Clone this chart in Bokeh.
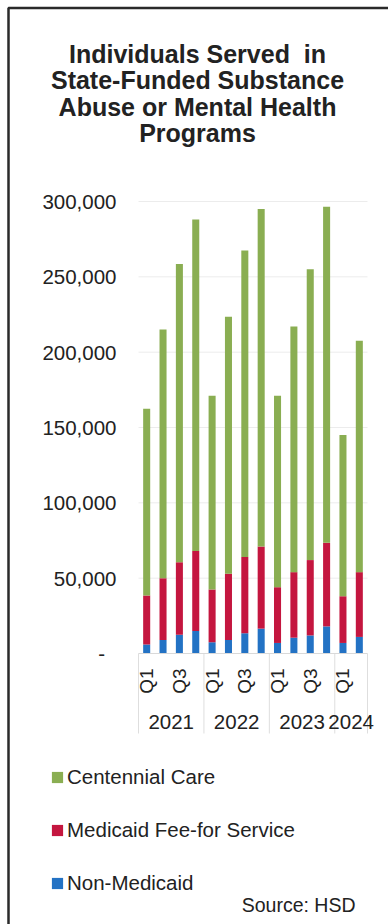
from math import pi

from bokeh.plotting import figure
from bokeh.models import (ColumnDataSource, FixedTicker, NumeralTickFormatter, LinearAxis,
                          Label, Legend, LegendItem, Range1d)
from bokeh.embed import file_html
from bokeh.resources import INLINE

# Quarterly counts of individuals served, by funding source
years = ["2021"] * 4 + ["2022"] * 4 + ["2023"] * 4 + ["2024"] * 2
quarters = ["Q1", "Q2", "Q3", "Q4"] * 3 + ["Q1", "Q2"]
non_medicaid = [6000, 9000, 12500, 15000, 7500, 9000, 13500, 16500, 7000, 10500, 12000, 18000, 7000, 11000]
fee_for_service = [32500, 41000, 48000, 53000, 35000, 44000, 50500, 54500, 37000, 43500, 50000, 55500, 31000, 43000]
centennial_care = [124000, 165000, 198000, 220000, 128500, 170500, 203500, 224000, 127000, 163000, 193000, 223000, 107000, 153500]

series_names = ["Non-Medicaid", "Medicaid Fee-for Service", "Centennial Care"]
title_lines = ["Individuals Served\u00a0 in", "State-Funded Substance", "Abuse or Mental Health", "Programs"]
y_ticks = [0, 50000, 100000, 150000, 200000, 250000, 300000]
source_note = "Source: HSD"

GREEN = "#8aae52"
RED = "#c4163f"
BLUE = "#2372c4"
INK = "#222222"
FONT = "Liberation Sans"

# page geometry (pixels); the plotting area spans the whole page and the
# bar region is placed inside it
W, H = 388, 924
LEFT, BAR_W = 138, 229          # left edge and width of the bar region
TOP, BAR_H = 201, 452           # top edge and height of the bar region
BOTTOM = TOP + BAR_H
N = len(quarters)
Y_MAX = y_ticks[-1]
STEP = BAR_W / N


def xd(px):
    """Horizontal page pixel -> x data value."""
    return (px - LEFT) / STEP - 0.5


def yd(py):
    """Vertical page pixel -> y data value."""
    return (BOTTOM - py) * Y_MAX / BAR_H


src = ColumnDataSource(dict(
    x=list(range(N)),
    non_medicaid=non_medicaid,
    ffs=fee_for_service,
    centennial=centennial_care,
))

p = figure(width=W, height=H, output_backend="svg", toolbar_location=None,
           x_range=Range1d(xd(0), xd(W)), y_range=Range1d(yd(H), yd(0)),
           x_axis_type=None, y_axis_type=None,
           min_border_left=0, min_border_right=0, min_border_top=0, min_border_bottom=0)
p.outline_line_color = None
p.background_fill_color = "white"
p.border_fill_color = "white"

x_lo, x_hi = -0.5, N - 0.5

# horizontal grid lines at the value ticks
grid_y = y_ticks[1:]
p.segment(x0=[x_lo] * len(grid_y), x1=[x_hi] * len(grid_y), y0=grid_y, y1=grid_y,
          line_color="#ececec", line_width=1)

# year boundaries running down through the category labels
bounds = [x_lo] + [i - 0.5 for i in range(1, N) if years[i] != years[i - 1]] + [x_hi]
p.segment(x0=bounds, x1=bounds, y0=[0] * len(bounds), y1=[yd(733)] * len(bounds),
          line_color="#dedede", line_width=1)

# y axis with thousands separators and a dash for zero
yaxis = LinearAxis(fixed_location=x_lo, bounds=(0, Y_MAX),
                   ticker=FixedTicker(ticks=y_ticks),
                   formatter=NumeralTickFormatter(format="0,0"),
                   major_label_overrides={0: "-\u00a0\u00a0"},
                   major_label_standoff=16,
                   major_tick_line_color=None, minor_tick_line_color=None,
                   axis_line_color=None,
                   major_label_text_font=FONT, major_label_text_font_size="20.5px",
                   major_label_text_color=INK)
p.add_layout(yaxis, "left")

# x axis: every other quarter labelled
q_ticks = [i for i, q in enumerate(quarters) if q in ("Q1", "Q3")]
xaxis = LinearAxis(fixed_location=0, bounds=(x_lo, x_hi),
                   ticker=FixedTicker(ticks=q_ticks),
                   major_label_overrides={i: quarters[i] for i in q_ticks},
                   major_label_orientation=pi / 2,
                   major_label_standoff=15,
                   major_tick_in=0, major_tick_out=0, major_tick_line_color=None,
                   minor_tick_line_color=None,
                   axis_line_color="#d9d9d9",
                   major_label_text_font=FONT, major_label_text_font_size="19px",
                   major_label_text_color=INK)
p.add_layout(xaxis, "below")

renderers = p.vbar_stack(["non_medicaid", "ffs", "centennial"], x="x", width=0.43,
                         color=[BLUE, RED, GREEN], line_width=0, source=src)

# year group labels
for yr in dict.fromkeys(years):
    idx = [i for i, y in enumerate(years) if y == yr]
    p.add_layout(Label(x=sum(idx) / len(idx), y=yd(721.5), text=yr,
                       text_align="center", text_baseline="middle",
                       text_font=FONT, text_font_size="20.5px", text_color=INK))

# title lines
for line, base in zip(title_lines, [53, 79.5, 106, 132.5]):
    p.add_layout(Label(x=xd(197), y=yd(base), text=line,
                       text_align="center", text_baseline="alphabetic",
                       text_font=FONT, text_font_style="bold", text_font_size="25px",
                       text_color=INK))

p.add_layout(Label(x=xd(355), y=yd(904), text=source_note,
                   text_align="right", text_baseline="middle",
                   text_font=FONT, text_font_size="19.5px", text_color=INK))

legend = Legend(items=[LegendItem(label=series_names[2], renderers=[renderers[2]]),
                       LegendItem(label=series_names[1], renderers=[renderers[1]]),
                       LegendItem(label=series_names[0], renderers=[renderers[0]])],
                location=(50, H - 895), orientation="vertical",
                glyph_width=14, glyph_height=14, label_height=24, spacing=29,
                padding=0, margin=0, label_standoff=3,
                border_line_color=None, background_fill_alpha=0,
                label_text_font=FONT, label_text_font_size="20.5px",
                label_text_color=INK)
p.add_layout(legend)

# frame rule along the top and left edges
p.line(x=[xd(8), xd(8), xd(W + 10)], y=[yd(H + 10), yd(7.5), yd(7.5)],
       line_color="#2a2a2a", line_width=2.5)

open("out.html", "w").write(file_html(p, INLINE))
